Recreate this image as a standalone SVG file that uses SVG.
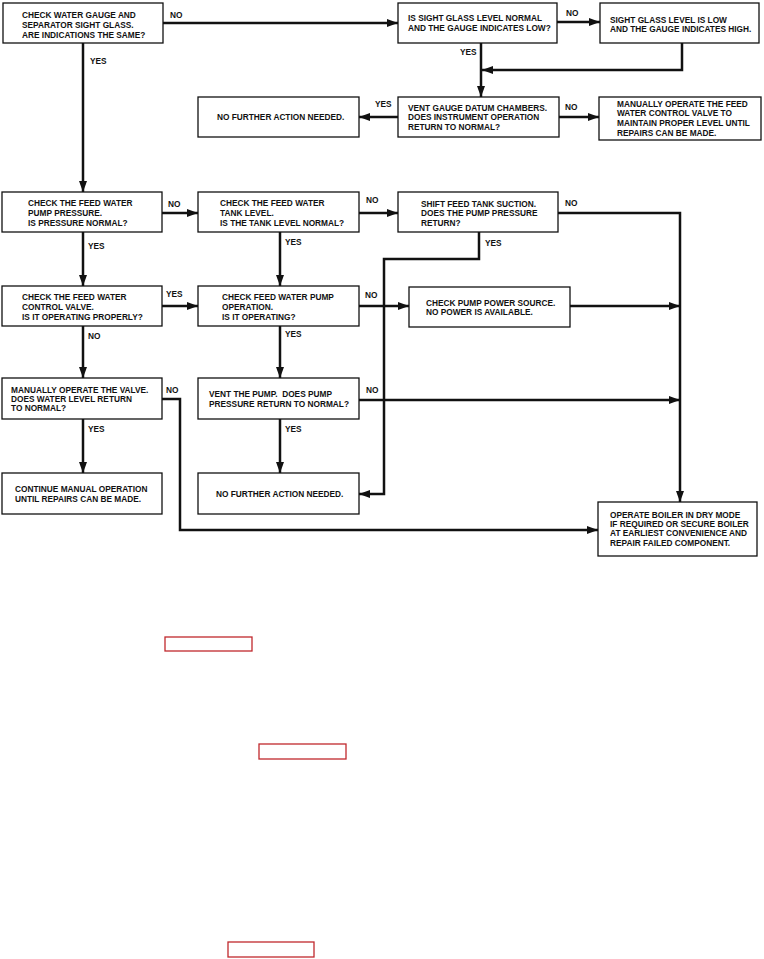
<svg xmlns="http://www.w3.org/2000/svg" width="764" height="959" viewBox="0 0 764 959">
<style>
.box{fill:#fff;stroke:#111;stroke-width:1.3}
.t{font-family:"Liberation Sans",Arial,sans-serif;font-size:8.3px;font-weight:bold;fill:#111;white-space:pre}
.c{fill:none;stroke:#111;stroke-width:2.5}
.red{fill:none;stroke:#c0282d;stroke-width:1.3}
</style>
<defs>
<marker id="ah" markerWidth="11" markerHeight="8" refX="11" refY="4" orient="auto" markerUnits="userSpaceOnUse">
<path d="M0,0 L11,4 L0,8 z" fill="#111"/>
</marker>
</defs>
<rect width="764" height="959" fill="#fff"/>

<g id="connectors">
<polyline class="c" points="163,23 398,23" marker-end="url(#ah)"/>
<polyline class="c" points="557,22 600,22" marker-end="url(#ah)"/>
<polyline class="c" points="682,43 682,70 482,70" marker-end="url(#ah)"/>
<polyline class="c" points="481,43 481,97" marker-end="url(#ah)"/>
<polyline class="c" points="398,117 359,117" marker-end="url(#ah)"/>
<polyline class="c" points="559,117 599,117" marker-end="url(#ah)"/>
<polyline class="c" points="83,43 83,192" marker-end="url(#ah)"/>
<polyline class="c" points="162,213 198,213" marker-end="url(#ah)"/>
<polyline class="c" points="359,213 398,213" marker-end="url(#ah)"/>
<polyline class="c" points="558,213 680,213 680,502" marker-end="url(#ah)"/>
<polyline class="c" points="83,232 83,286" marker-end="url(#ah)"/>
<polyline class="c" points="280,232 280,286" marker-end="url(#ah)"/>
<polyline class="c" points="479,232 479,259 384,259 384,494 359,494" marker-end="url(#ah)"/>
<polyline class="c" points="162,306 198,306" marker-end="url(#ah)"/>
<polyline class="c" points="359,306 409,306" marker-end="url(#ah)"/>
<polyline class="c" points="570,306 680,306" marker-end="url(#ah)"/>
<polyline class="c" points="83,326 83,378" marker-end="url(#ah)"/>
<polyline class="c" points="280,326 280,378" marker-end="url(#ah)"/>
<polyline class="c" points="162,399 180,399 180,530 598,530" marker-end="url(#ah)"/>
<polyline class="c" points="359,400 680,400" marker-end="url(#ah)"/>
<polyline class="c" points="83,419 83,473" marker-end="url(#ah)"/>
<polyline class="c" points="280,419 280,473" marker-end="url(#ah)"/>
</g>

<g id="labels" class="t">
<text x="170" y="18">NO</text>
<text x="90" y="64">YES</text>
<text x="566" y="16">NO</text>
<text x="460" y="55">YES</text>
<text x="375" y="107">YES</text>
<text x="565" y="110">NO</text>
<text x="168" y="207">NO</text>
<text x="366" y="203">NO</text>
<text x="565" y="206">NO</text>
<text x="88" y="249">YES</text>
<text x="285" y="245">YES</text>
<text x="485" y="246">YES</text>
<text x="166" y="297">YES</text>
<text x="365" y="298">NO</text>
<text x="88" y="339">NO</text>
<text x="285" y="337">YES</text>
<text x="166" y="393">NO</text>
<text x="366" y="393">NO</text>
<text x="88" y="432">YES</text>
<text x="285" y="432">YES</text>
</g>

<g id="nA"><rect class="box" x="3" y="3" width="160" height="40"/>
<text class="t" x="22" y="18">CHECK WATER GAUGE AND</text>
<text class="t" x="22" y="28">SEPARATOR SIGHT GLASS.</text>
<text class="t" x="22" y="38">ARE INDICATIONS THE SAME?</text></g>

<g id="nB"><rect class="box" x="398" y="3" width="159" height="40"/>
<text class="t" x="408" y="21">IS SIGHT GLASS LEVEL NORMAL</text>
<text class="t" x="408" y="31">AND THE GAUGE INDICATES LOW?</text></g>

<g id="nC"><rect class="box" x="600" y="3" width="159" height="40"/>
<text class="t" x="610" y="23">SIGHT GLASS LEVEL IS LOW</text>
<text class="t" x="610" y="32">AND THE GAUGE INDICATES HIGH.</text></g>

<g id="nNF1"><rect class="box" x="198" y="97" width="161" height="40"/>
<text class="t" x="217" y="120">NO FURTHER ACTION NEEDED.</text></g>

<g id="nE"><rect class="box" x="398" y="97" width="161" height="40"/>
<text class="t" x="408" y="111">VENT GAUGE DATUM CHAMBERS.</text>
<text class="t" x="408" y="120">DOES INSTRUMENT OPERATION</text>
<text class="t" x="408" y="130">RETURN TO NORMAL?</text></g>

<g id="nF"><rect class="box" x="599" y="97" width="162" height="43"/>
<text class="t" x="617" y="107">MANUALLY OPERATE THE FEED</text>
<text class="t" x="617" y="116">WATER CONTROL VALVE TO</text>
<text class="t" x="617" y="126">MAINTAIN PROPER LEVEL UNTIL</text>
<text class="t" x="617" y="136">REPAIRS CAN BE MADE.</text></g>

<g id="nD"><rect class="box" x="2" y="192" width="160" height="40"/>
<text class="t" x="28" y="206">CHECK THE FEED WATER</text>
<text class="t" x="28" y="216">PUMP PRESSURE.</text>
<text class="t" x="28" y="226">IS PRESSURE NORMAL?</text></g>

<g id="nG"><rect class="box" x="198" y="192" width="161" height="40"/>
<text class="t" x="220" y="206">CHECK THE FEED WATER</text>
<text class="t" x="220" y="216">TANK LEVEL.</text>
<text class="t" x="220" y="226">IS THE TANK LEVEL NORMAL?</text></g>

<g id="nH"><rect class="box" x="398" y="192" width="160" height="40"/>
<text class="t" x="421" y="207">SHIFT FEED TANK SUCTION.</text>
<text class="t" x="421" y="216">DOES THE PUMP PRESSURE</text>
<text class="t" x="421" y="226">RETURN?</text></g>

<g id="nI"><rect class="box" x="2" y="286" width="160" height="40"/>
<text class="t" x="22" y="300">CHECK THE FEED WATER</text>
<text class="t" x="22" y="310">CONTROL VALVE.</text>
<text class="t" x="22" y="320">IS IT OPERATING PROPERLY?</text></g>

<g id="nJ"><rect class="box" x="198" y="286" width="161" height="40"/>
<text class="t" x="222" y="300">CHECK FEED WATER PUMP</text>
<text class="t" x="222" y="310">OPERATION.</text>
<text class="t" x="222" y="320">IS IT OPERATING?</text></g>

<g id="nK"><rect class="box" x="409" y="287" width="161" height="40"/>
<text class="t" x="426" y="306">CHECK PUMP POWER SOURCE.</text>
<text class="t" x="426" y="315">NO POWER IS AVAILABLE.</text></g>

<g id="nL"><rect class="box" x="2" y="378" width="160" height="41"/>
<text class="t" x="11" y="393">MANUALLY OPERATE THE VALVE.</text>
<text class="t" x="11" y="402">DOES WATER LEVEL RETURN</text>
<text class="t" x="11" y="411">TO NORMAL?</text></g>

<g id="nM"><rect class="box" x="198" y="378" width="161" height="41"/>
<text class="t" x="209" y="397">VENT THE PUMP.  DOES PUMP</text>
<text class="t" x="209" y="407">PRESSURE RETURN TO NORMAL?</text></g>

<g id="nN"><rect class="box" x="2" y="473" width="160" height="41"/>
<text class="t" x="15" y="492">CONTINUE MANUAL OPERATION</text>
<text class="t" x="15" y="502">UNTIL REPAIRS CAN BE MADE.</text></g>

<g id="nP"><rect class="box" x="198" y="473" width="161" height="41"/>
<text class="t" x="216" y="497">NO FURTHER ACTION NEEDED.</text></g>

<g id="nO"><rect class="box" x="598" y="502" width="159" height="54"/>
<text class="t" x="610" y="518">OPERATE BOILER IN DRY MODE</text>
<text class="t" x="610" y="527">IF REQUIRED OR SECURE BOILER</text>
<text class="t" x="610" y="536">AT EARLIEST CONVENIENCE AND</text>
<text class="t" x="610" y="546">REPAIR FAILED COMPONENT.</text></g>

<g id="refs">
<rect class="red" x="165" y="637" width="87" height="14"/>
<rect class="red" x="259" y="744" width="87" height="15"/>
<rect class="red" x="228" y="942" width="86" height="15"/>
</g>
</svg>
